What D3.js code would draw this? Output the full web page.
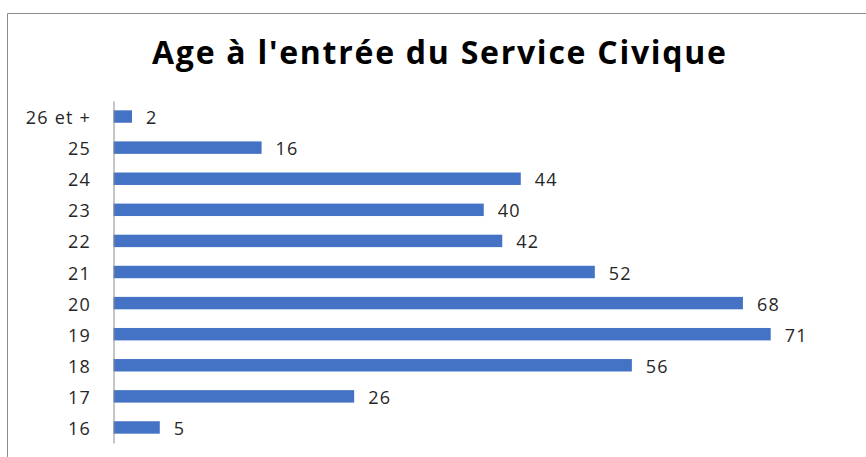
<!DOCTYPE html>
<html><head><meta charset="utf-8">
<script src="https://cdn.jsdelivr.net/npm/d3@7"></script>
<style>body{margin:0;background:#fff}svg{display:block}</style>
</head><body>
<script>
const categories = ["26 et +","25","24","23","22","21","20","19","18","17","16"];
const values = [2,16,44,40,42,52,68,71,56,26,5];
const title = "Age à l'entrée du Service Civique";

const W = 866, H = 457;
const svg = d3.select("body").append("svg").attr("width", W).attr("height", H);
svg.append("rect").attr("width", W).attr("height", H).attr("fill", "#fff");
// chart border (top & left visible)
svg.append("path").attr("d", `M7.5,${H} V13.5 H${W}`).attr("fill","none").attr("stroke","#8c8c8c").attr("stroke-width",1);

svg.append("text").attr("x", 152).attr("y", 64)
  .attr("textLength", 574).attr("lengthAdjust","spacing")
  .attr("font-family","'Open Sans', sans-serif").attr("font-weight","bold").attr("font-size",32)
  .attr("fill","#000").text(title);

const x0 = 113.5;
const x = d3.scaleLinear().domain([0,71]).range([x0, 770.7]);
const y = d3.scaleBand().domain(categories).range([101, 443]).paddingInner(0.6).paddingOuter(0.3);

const g = svg.append("g");
g.selectAll("rect.bar").data(values).join("rect").attr("class","bar")
  .attr("x", x(0)).attr("y",(d,i)=>y(categories[i]))
  .attr("width", d=>x(d)-x(0)).attr("height", y.bandwidth()).attr("fill","#4472C4");

g.selectAll("text.val").data(values).join("text").attr("class","val")
  .attr("x", d=>x(d)+14).attr("y",(d,i)=>y(categories[i])+y.bandwidth()/2).attr("dy","0.42em")
  .attr("font-family","'Open Sans', sans-serif").attr("font-size",18).attr("letter-spacing",1.2)
  .attr("fill","#262626").text(d=>d);

const axis = d3.axisLeft(y).tickSize(0).tickPadding(22.5);
const ag = svg.append("g").attr("transform",`translate(${x0},0)`).call(axis);
ag.select(".domain").attr("stroke","#8c8c8c");
ag.selectAll("text").attr("font-family","'Open Sans', sans-serif").attr("font-size",18)
  .attr("letter-spacing",1.2).attr("dy","0.42em").attr("fill","#262626");
</script>
</body></html>
